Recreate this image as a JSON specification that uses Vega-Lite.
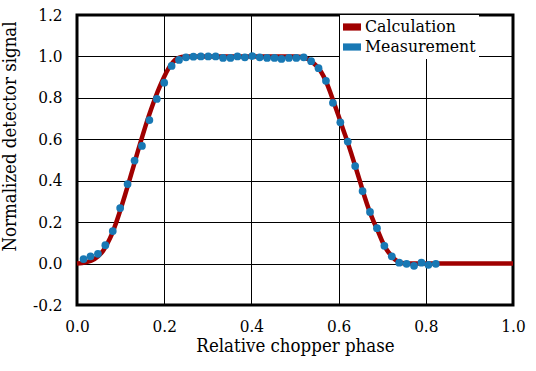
{
  "$schema": "https://vega.github.io/schema/vega-lite/v6.json",
  "width": 436,
  "height": 290,
  "autosize": {"type": "none"},
  "padding": {"left": 77, "top": 15, "right": 23, "bottom": 66},
  "background": "white",
  "config": {
    "font": "DejaVu Serif Condensed",
    "view": {"stroke": "black", "strokeWidth": 3},
    "axis": {
      "grid": true, "gridColor": "black", "gridWidth": 1, "gridOpacity": 1,
      "domain": false, "ticks": false, "labelFlush": false,
      "labelFont": "DejaVu Serif Condensed", "labelFontSize": 17, "labelColor": "black",
      "titleFont": "DejaVu Serif Condensed", "titleFontSize": 18.5, "titleFontWeight": "normal", "titleColor": "black"
    }
  },
  "data": {"values": [
    {"series": "Calculation", "x": 0.00, "y": 0.000},
    {"series": "Calculation", "x": 0.02, "y": 0.006},
    {"series": "Calculation", "x": 0.04, "y": 0.022},
    {"series": "Calculation", "x": 0.06, "y": 0.062},
    {"series": "Calculation", "x": 0.07, "y": 0.098},
    {"series": "Calculation", "x": 0.08, "y": 0.142},
    {"series": "Calculation", "x": 0.09, "y": 0.198},
    {"series": "Calculation", "x": 0.10, "y": 0.262},
    {"series": "Calculation", "x": 0.11, "y": 0.330},
    {"series": "Calculation", "x": 0.12, "y": 0.400},
    {"series": "Calculation", "x": 0.13, "y": 0.472},
    {"series": "Calculation", "x": 0.14, "y": 0.545},
    {"series": "Calculation", "x": 0.15, "y": 0.615},
    {"series": "Calculation", "x": 0.16, "y": 0.683},
    {"series": "Calculation", "x": 0.17, "y": 0.745},
    {"series": "Calculation", "x": 0.18, "y": 0.803},
    {"series": "Calculation", "x": 0.19, "y": 0.855},
    {"series": "Calculation", "x": 0.20, "y": 0.902},
    {"series": "Calculation", "x": 0.21, "y": 0.942},
    {"series": "Calculation", "x": 0.22, "y": 0.972},
    {"series": "Calculation", "x": 0.23, "y": 0.990},
    {"series": "Calculation", "x": 0.24, "y": 0.998},
    {"series": "Calculation", "x": 0.25, "y": 1.000},
    {"series": "Calculation", "x": 0.30, "y": 1.000},
    {"series": "Calculation", "x": 0.40, "y": 1.000},
    {"series": "Calculation", "x": 0.50, "y": 1.000},
    {"series": "Calculation", "x": 0.51, "y": 0.999},
    {"series": "Calculation", "x": 0.52, "y": 0.995},
    {"series": "Calculation", "x": 0.53, "y": 0.987},
    {"series": "Calculation", "x": 0.54, "y": 0.972},
    {"series": "Calculation", "x": 0.55, "y": 0.952},
    {"series": "Calculation", "x": 0.56, "y": 0.925},
    {"series": "Calculation", "x": 0.57, "y": 0.885},
    {"series": "Calculation", "x": 0.58, "y": 0.832},
    {"series": "Calculation", "x": 0.59, "y": 0.772},
    {"series": "Calculation", "x": 0.60, "y": 0.712},
    {"series": "Calculation", "x": 0.61, "y": 0.650},
    {"series": "Calculation", "x": 0.62, "y": 0.590},
    {"series": "Calculation", "x": 0.63, "y": 0.525},
    {"series": "Calculation", "x": 0.64, "y": 0.458},
    {"series": "Calculation", "x": 0.65, "y": 0.390},
    {"series": "Calculation", "x": 0.66, "y": 0.320},
    {"series": "Calculation", "x": 0.67, "y": 0.258},
    {"series": "Calculation", "x": 0.68, "y": 0.205},
    {"series": "Calculation", "x": 0.69, "y": 0.158},
    {"series": "Calculation", "x": 0.70, "y": 0.108},
    {"series": "Calculation", "x": 0.71, "y": 0.068},
    {"series": "Calculation", "x": 0.72, "y": 0.040},
    {"series": "Calculation", "x": 0.73, "y": 0.018},
    {"series": "Calculation", "x": 0.74, "y": 0.006},
    {"series": "Calculation", "x": 0.75, "y": 0.001},
    {"series": "Calculation", "x": 0.76, "y": 0.000},
    {"series": "Calculation", "x": 0.85, "y": 0.000},
    {"series": "Calculation", "x": 1.00, "y": 0.000},
    {"series": "Measurement", "x": 0.015, "y": 0.022},
    {"series": "Measurement", "x": 0.031, "y": 0.035},
    {"series": "Measurement", "x": 0.048, "y": 0.047},
    {"series": "Measurement", "x": 0.065, "y": 0.089},
    {"series": "Measurement", "x": 0.082, "y": 0.157},
    {"series": "Measurement", "x": 0.099, "y": 0.268},
    {"series": "Measurement", "x": 0.116, "y": 0.384},
    {"series": "Measurement", "x": 0.132, "y": 0.497},
    {"series": "Measurement", "x": 0.149, "y": 0.568},
    {"series": "Measurement", "x": 0.166, "y": 0.693},
    {"series": "Measurement", "x": 0.183, "y": 0.795},
    {"series": "Measurement", "x": 0.200, "y": 0.873},
    {"series": "Measurement", "x": 0.217, "y": 0.954},
    {"series": "Measurement", "x": 0.234, "y": 0.983},
    {"series": "Measurement", "x": 0.250, "y": 0.996},
    {"series": "Measurement", "x": 0.267, "y": 0.999},
    {"series": "Measurement", "x": 0.284, "y": 1.000},
    {"series": "Measurement", "x": 0.301, "y": 1.000},
    {"series": "Measurement", "x": 0.318, "y": 1.000},
    {"series": "Measurement", "x": 0.335, "y": 0.993},
    {"series": "Measurement", "x": 0.352, "y": 0.993},
    {"series": "Measurement", "x": 0.368, "y": 1.000},
    {"series": "Measurement", "x": 0.385, "y": 0.996},
    {"series": "Measurement", "x": 0.402, "y": 1.002},
    {"series": "Measurement", "x": 0.419, "y": 0.996},
    {"series": "Measurement", "x": 0.436, "y": 0.993},
    {"series": "Measurement", "x": 0.453, "y": 0.993},
    {"series": "Measurement", "x": 0.469, "y": 0.988},
    {"series": "Measurement", "x": 0.486, "y": 0.993},
    {"series": "Measurement", "x": 0.503, "y": 0.993},
    {"series": "Measurement", "x": 0.520, "y": 0.996},
    {"series": "Measurement", "x": 0.537, "y": 0.977},
    {"series": "Measurement", "x": 0.554, "y": 0.943},
    {"series": "Measurement", "x": 0.571, "y": 0.882},
    {"series": "Measurement", "x": 0.587, "y": 0.776},
    {"series": "Measurement", "x": 0.604, "y": 0.682},
    {"series": "Measurement", "x": 0.621, "y": 0.589},
    {"series": "Measurement", "x": 0.638, "y": 0.471},
    {"series": "Measurement", "x": 0.655, "y": 0.350},
    {"series": "Measurement", "x": 0.672, "y": 0.249},
    {"series": "Measurement", "x": 0.688, "y": 0.171},
    {"series": "Measurement", "x": 0.705, "y": 0.086},
    {"series": "Measurement", "x": 0.722, "y": 0.035},
    {"series": "Measurement", "x": 0.739, "y": 0.004},
    {"series": "Measurement", "x": 0.756, "y": -0.001},
    {"series": "Measurement", "x": 0.773, "y": -0.011},
    {"series": "Measurement", "x": 0.790, "y": 0.004},
    {"series": "Measurement", "x": 0.806, "y": -0.006},
    {"series": "Measurement", "x": 0.823, "y": -0.001}
  ]},
  "encoding": {
    "x": {
      "field": "x", "type": "quantitative",
      "scale": {"domain": [0, 1], "nice": false},
      "axis": {"values": [0, 0.2, 0.4, 0.6, 0.8, 1.0], "format": ".1f", "labelPadding": 13, "titlePadding": 2, "title": "Relative chopper phase"}
    },
    "y": {
      "field": "y", "type": "quantitative",
      "scale": {"domain": [-0.2, 1.2], "nice": false, "zero": false},
      "axis": {
        "values": [-0.2, 0, 0.2, 0.4, 0.6, 0.8, 1.0, 1.2],
        "labelExpr": "datum.value < 0 ? '-' + format(-datum.value, '.1f') : format(datum.value, '.1f')",
        "labelPadding": 15, "title": "Normalized detector signal",
        "titleX": -58, "titleY": 121
      }
    },
    "color": {
      "field": "series", "type": "nominal",
      "scale": {"domain": ["Calculation", "Measurement"], "range": ["#A00000", "#1878B4"]},
      "legend": {
        "title": null, "orient": "none", "legendX": 263, "legendY": 0,
        "fillColor": "white", "padding": 3, "rowPadding": 2,
        "labelFont": "DejaVu Serif Condensed", "labelFontSize": 17.5, "labelColor": "black", "labelOffset": 4,
        "symbolType": "M-1,-0.4H1V0.4H-1Z", "symbolSize": 324, "symbolStrokeWidth": 0,
        "encode": {"symbols": {"update": {"fill": {"scale": "color", "field": "value"}, "fillOpacity": {"value": 1}, "strokeWidth": {"value": 0}}}}
      }
    }
  },
  "layer": [
    {
      "transform": [{"filter": "datum.series == 'Calculation'"}],
      "mark": {"type": "line", "strokeWidth": 4.5, "interpolate": "monotone"}
    },
    {
      "transform": [{"filter": "datum.series == 'Measurement'"}],
      "mark": {"type": "point", "filled": true, "size": 60, "opacity": 1, "shape": "circle"}
    }
  ]
}
